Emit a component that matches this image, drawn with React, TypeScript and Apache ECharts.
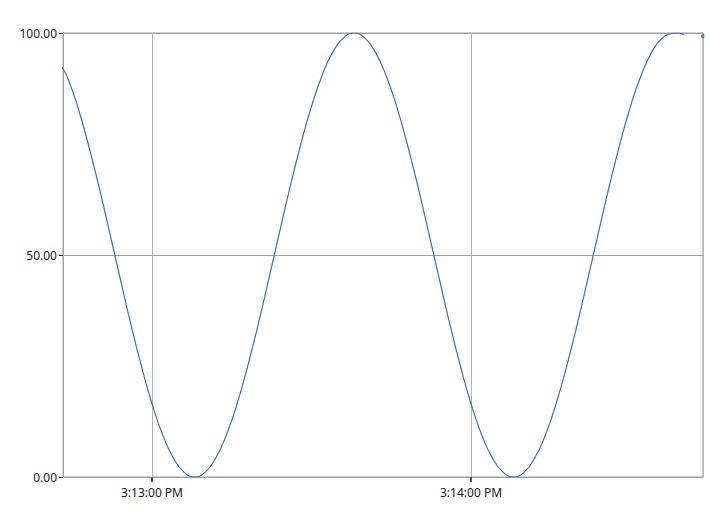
import React, { useEffect, useRef } from "react";
import * as echarts from "echarts";

// Sample times (hh:mm:ss, afternoon) and values
const times: string[] = [
  "15:12:43", "15:12:44", "15:12:46", "15:12:48", "15:12:50", "15:12:52", "15:12:54", "15:12:56", "15:12:58",
  "15:13:00", "15:13:02", "15:13:04", "15:13:06", "15:13:08", "15:13:10", "15:13:12", "15:13:14", "15:13:16",
  "15:13:18", "15:13:20", "15:13:22", "15:13:24", "15:13:26", "15:13:28", "15:13:30", "15:13:32", "15:13:34",
  "15:13:36", "15:13:38", "15:13:40", "15:13:42", "15:13:44", "15:13:46", "15:13:48", "15:13:50", "15:13:52",
  "15:13:54", "15:13:56", "15:13:58", "15:14:00", "15:14:02", "15:14:04", "15:14:06", "15:14:08", "15:14:10",
  "15:14:12", "15:14:14", "15:14:16", "15:14:18", "15:14:20", "15:14:22", "15:14:24", "15:14:26", "15:14:28",
  "15:14:30", "15:14:32", "15:14:34", "15:14:36", "15:14:38", "15:14:39", "15:14:40",
];
const values: number[] = [
  92.4, 90.3, 83.5, 75.0, 65.5, 55.2, 44.8, 34.5, 25.0,
  16.5, 9.5, 4.3, 1.1, 0.0, 1.1, 4.3, 9.5, 16.5,
  25.0, 34.5, 44.8, 55.2, 65.5, 75.0, 83.5, 90.5, 95.7,
  98.9, 100.0, 98.9, 95.7, 90.5, 83.5, 75.0, 65.5, 55.2,
  44.8, 34.5, 25.0, 16.5, 9.5, 4.3, 1.1, 0.0, 1.1,
  4.3, 9.5, 16.5, 25.0, 34.5, 44.8, 55.2, 65.5, 75.0,
  83.5, 90.5, 95.7, 98.9, 99.9, 100.0, 99.6,
];
// Lone last sample at the right edge
const lastTime = "15:14:43.6";
const lastValue = 99.3;

const axisMinTime = "15:12:43.26";
const axisMaxTime = "15:14:43.63";
const yTicks: number[] = [0, 50, 100];

function toMs(t: string): number {
  const [h, m, s] = t.split(":");
  const sec = parseFloat(s);
  const d = new Date(2024, 0, 1, parseInt(h, 10), parseInt(m, 10), Math.floor(sec));
  return d.getTime() + Math.round((sec - Math.floor(sec)) * 1000);
}

function fmtTime(v: number): string {
  const d = new Date(v);
  const h = d.getHours();
  const h12 = h % 12 === 0 ? 12 : h % 12;
  const mm = String(d.getMinutes()).padStart(2, "0");
  const ss = String(d.getSeconds()).padStart(2, "0");
  return `${h12}:${mm}:${ss} ${h >= 12 ? "PM" : "AM"}`;
}

export default function App() {
  const ref = useRef<HTMLDivElement>(null);
  useEffect(() => {
    if (!ref.current) return;
    const chart = echarts.init(ref.current, undefined, { renderer: "svg" });
    const font = "'Segoe UI', 'Noto Sans', 'Open Sans', sans-serif";
    chart.setOption({
      animation: false,
      grid: {
        left: 63,
        top: 33,
        right: 7,
        bottom: 35,
        show: true,
        borderColor: "#a0a0a0",
        borderWidth: 1,
        backgroundColor: "#ffffff",
      },
      xAxis: {
        type: "time",
        min: toMs(axisMinTime),
        max: toMs(axisMaxTime),
        minInterval: 60000,
        maxInterval: 60000,
        axisLine: { show: true, lineStyle: { color: "#a0a0a0", width: 1 } },
        axisTick: { show: true, length: 5, lineStyle: { color: "#555555", width: 2 } },
        minorTick: { show: false },
        axisLabel: {
          show: true,
          margin: 9,
          color: "#1a1a1a",
          fontSize: 12,
          fontFamily: font,
          showMinLabel: false,
          showMaxLabel: false,
          formatter: (v: number) => fmtTime(v),
        },
        splitLine: { show: true, lineStyle: { color: "#b4b4b4", width: 1 } },
      },
      yAxis: {
        type: "value",
        min: yTicks[0],
        max: yTicks[yTicks.length - 1],
        interval: 50,
        axisLine: { show: true, lineStyle: { color: "#a0a0a0", width: 1 } },
        axisTick: { show: true, length: 4, lineStyle: { color: "#222222", width: 1 } },
        axisLabel: {
          margin: 6,
          color: "#1a1a1a",
          fontSize: 12,
          fontFamily: font,
          formatter: (v: number) => v.toFixed(2),
        },
        splitLine: { show: true, lineStyle: { color: "#a0a0a0", width: 1 } },
      },
      series: [
        {
          type: "line",
          data: times.map((t, i) => [toMs(t), values[i]]),
          showSymbol: false,
          symbol: "none",
          smooth: true,
          clip: true,
          lineStyle: { color: "#3b70b8", width: 1.2 },
          itemStyle: { color: "#3b70b8" },
        },
        {
          type: "scatter",
          data: [[toMs(lastTime), lastValue]],
          symbolSize: 4,
          clip: false,
          itemStyle: { color: "#3b70b8" },
        },
      ],
    });
    return () => chart.dispose();
  }, []);
  return (
    <div
      ref={ref}
      style={{ position: "absolute", left: 0, top: 0, width: 710, height: 512, background: "#fff" }}
    />
  );
}
